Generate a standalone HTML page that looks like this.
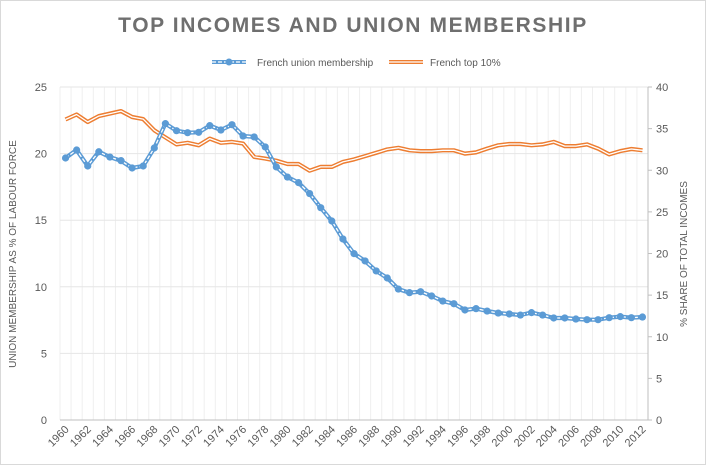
<!DOCTYPE html>
<html><head><meta charset="utf-8"><style>
body{margin:0;background:#fff;}
svg{display:block;font-family:"Liberation Sans",sans-serif;}
</style></head><body>
<svg id="s" width="706" height="465" viewBox="0 0 706 465" xmlns="http://www.w3.org/2000/svg">
<rect x="0.5" y="0.5" width="705" height="464" fill="#fff" stroke="#d9d9d9"/>
<text x="353" y="32" text-anchor="middle" font-size="21" font-weight="bold" fill="#6f6f6f" letter-spacing="1.6">TOP INCOMES AND UNION MEMBERSHIP</text>
<g id="grid"></g>
<g id="lines"></g>
<g font-size="10" fill="#595959">
<line x1="212" y1="62" x2="246" y2="62" stroke="#5b9bd5" stroke-width="4"/>
<line x1="212" y1="62" x2="246" y2="62" stroke="#fff" stroke-width="1.3" stroke-dasharray="4 2"/>
<circle cx="229" cy="62" r="3.5" fill="#5b9bd5"/>
<text x="257" y="66">French union membership</text>
<line x1="389" y1="62" x2="423" y2="62" stroke="#ed7d31" stroke-width="4"/>
<line x1="389" y1="62" x2="423" y2="62" stroke="#fff" stroke-width="1.3"/>
<text x="430" y="66">French top 10%</text>
</g>
<text transform="translate(16,254) rotate(-90)" text-anchor="middle" font-size="10" fill="#595959">UNION MEMBERSHIP AS % OF LABOUR FORCE</text>
<text transform="translate(687,254) rotate(-90)" text-anchor="middle" font-size="10" fill="#595959">% SHARE OF TOTAL INCOMES</text>
</svg>
<script>
var NS="http://www.w3.org/2000/svg",s=document.getElementById('s'),g=document.getElementById('grid'),L=document.getElementById('lines');
function el(t,a,p,txt){var e=document.createElementNS(NS,t);for(var k in a)e.setAttribute(k,a[k]);if(txt!=null)e.textContent=txt;(p||s).appendChild(e);return e;}
var x0=60,x1=648,yT=87,yB=420,n=53,w=(x1-x0)/n;
for(var i=0;i<=n;i++){var x=x0+i*w;el('line',{x1:x,y1:yT,x2:x,y2:yB,stroke:'#efefef','stroke-width':1},g);}
for(var v=0;v<=25;v+=5){var y=yB-v*(yB-yT)/25;el('line',{x1:x0,y1:y,x2:x1,y2:y,stroke:'#e6e6e6','stroke-width':1},g);
el('text',{x:47,y:y+4,'text-anchor':'end','font-size':11,fill:'#595959'},g,v);}
for(var v=0;v<=40;v+=5){var y=yB-v*(yB-yT)/40;el('line',{x1:x1,y1:y,x2:x1+4,y2:y,stroke:'#bfbfbf'},g);
el('text',{x:656,y:y+4,'font-size':11,fill:'#595959'},g,v);}
el('line',{x1:x0,y1:yB,x2:x1,y2:yB,stroke:'#bfbfbf'},g);
el('line',{x1:x1,y1:yT,x2:x1,y2:yB,stroke:'#bfbfbf'},g);
for(var i=0;i<n;i+=2){var x=x0+(i+0.5)*w+4,y=yB+10;el('text',{x:x,y:y,'text-anchor':'end','font-size':11,fill:'#595959',transform:'rotate(-45 '+x+' '+y+')'},g,1960+i);}
var u=[19.67,20.27,19.07,20.14,19.74,19.47,18.92,19.07,20.42,22.25,21.72,21.57,21.6,22.1,21.77,22.17,21.32,21.25,20.5,19.0,18.24,17.82,17.0,15.94,14.94,13.59,12.49,11.94,11.19,10.66,9.83,9.56,9.63,9.31,8.93,8.73,8.26,8.36,8.18,8.03,7.96,7.88,8.06,7.88,7.66,7.66,7.58,7.53,7.53,7.68,7.76,7.68,7.73];
var o=[36.1,36.7,35.8,36.5,36.8,37.1,36.4,36.15,34.8,33.95,33.1,33.3,33.0,33.8,33.3,33.4,33.2,31.6,31.4,31.15,30.75,30.75,29.95,30.4,30.4,31.0,31.3,31.7,32.1,32.5,32.7,32.4,32.3,32.3,32.4,32.4,32.0,32.15,32.6,33.0,33.15,33.15,33.0,33.1,33.4,32.9,32.9,33.1,32.6,31.9,32.3,32.55,32.4];
function pts(a,m){return a.map(function(v,i){return (x0+(i+0.5)*w).toFixed(1)+','+(yB-v*(yB-yT)/m).toFixed(1);}).join(' ');}
var po=pts(o,40),pu=pts(u,25);
el('polyline',{points:po,fill:'none',stroke:'#ed7d31','stroke-width':4.2,'stroke-linejoin':'round'},L);
el('polyline',{points:po,fill:'none',stroke:'#fff','stroke-width':1.3,'stroke-linejoin':'round'},L);
el('polyline',{points:pu,fill:'none',stroke:'#5b9bd5','stroke-width':4.2,'stroke-linejoin':'round'},L);
el('polyline',{points:pu,fill:'none',stroke:'#fff','stroke-width':1.3,'stroke-dasharray':'4 2','stroke-linejoin':'round'},L);
u.forEach(function(v,i){el('circle',{cx:x0+(i+0.5)*w,cy:yB-v*(yB-yT)/25,r:3.6,fill:'#5b9bd5'},L);});
</script>
</body></html>
